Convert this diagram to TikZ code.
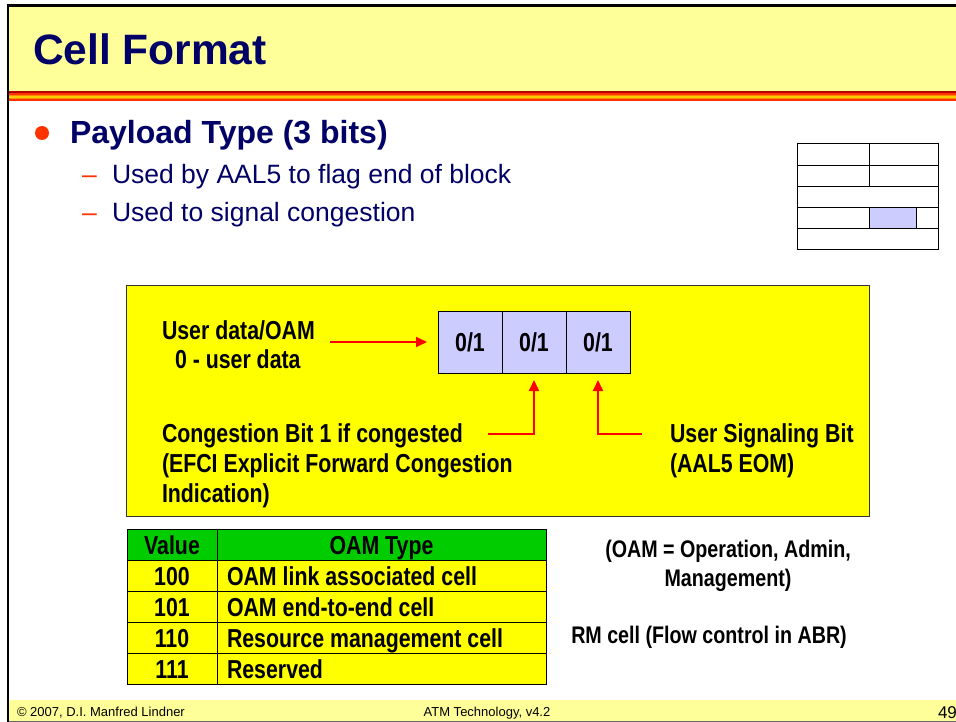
\documentclass[tikz,border=0pt]{standalone}
\usepackage{fontspec}
\setmainfont{Liberation Sans}
\newfontfamily\narb{Liberation Sans}[FakeStretch=0.82]
\usetikzlibrary{arrows.meta}
\definecolor{navy}{HTML}{000066}
\definecolor{hdr}{HTML}{FFFF99}
\definecolor{bul}{HTML}{FF3300}
\definecolor{ybox}{HTML}{FFFF00}
\definecolor{lav}{HTML}{CCCCFF}
\definecolor{grn}{HTML}{00CC00}
\definecolor{darkred}{HTML}{B00000}
\definecolor{orng}{HTML}{FF8800}
\definecolor{gold}{HTML}{FFCC00}
\tikzset{
  txt/.style={inner sep=0pt, outer sep=0pt},
  nb/.style={txt, font=\narb\bfseries\fontsize{26}{30}\selectfont},
  nbs/.style={txt, font=\narb\bfseries\fontsize{24}{28}\selectfont},
  bitcell/.style={draw=black, line width=0.8pt, fill=lav, minimum width=64pt, minimum height=62pt, inner sep=0pt, outer sep=0pt, font=\narb\bfseries\fontsize{26}{30}\selectfont},
  cell/.style={draw=black, line width=1pt, inner sep=0pt, outer sep=0pt, minimum height=31pt, anchor=north west},
  redarrow/.style={draw=red, line width=2pt, -{Triangle[length=11pt,width=10pt]}},
  foot/.style={txt, font=\fontsize{13}{15}\selectfont, anchor=base}
}
\begin{document}
\begin{tikzpicture}[x=1pt,y=-1pt]
\useasboundingbox (0,0) rectangle (956,722);
\fill[white] (0,0) rectangle (956,722);
% header band
\fill[hdr] (8,6) rectangle (956,91.5);
\fill[darkred] (8,91.3) rectangle (956,93);
\fill[bul] (8,93) rectangle (956,94.6);
\fill[orng] (8,94.6) rectangle (956,96.1);
\fill[gold] (8,96.1) rectangle (956,97.6);
\fill[orng] (8,97.6) rectangle (956,99.1);
\fill[bul] (8,99.1) rectangle (956,100.7);
% footer band
\fill[hdr] (8,700) rectangle (956,721);
\draw[black!60, line width=1pt] (8,721.2) -- (956,721.2);
% slide borders
\draw[black, line width=2.4pt] (6.6,5.5) -- (956,5.5);
\draw[black, line width=2.4pt] (7.8,4.3) -- (7.8,722);

% title
\node[txt, anchor=base west, text=navy, font=\bfseries\fontsize{42.5}{48}\selectfont] (title) at (33,64.5) {Cell Format};

% bullets
\fill[bul] (42,133) circle (7);
\node[txt, anchor=base west, text=navy, font=\bfseries\fontsize{32}{36}\selectfont] (pt) at (70,144) {Payload Type (3 bits)};
\node[txt, anchor=base west, text=bul, font=\fontsize{26.5}{30}\selectfont] (d1) at (82,184) {–};
\node[txt, anchor=base west, text=navy, font=\fontsize{26.5}{30}\selectfont] (s1) at (112,184) {Used by AAL5 to flag end of block};
\node[txt, anchor=base west, text=bul, font=\fontsize{26.5}{30}\selectfont] (d2) at (82,222) {–};
\node[txt, anchor=base west, text=navy, font=\fontsize{26.5}{30}\selectfont] (s2) at (112,222) {Used to signal congestion};

% small header diagram
\draw[black, line width=1pt] (797,144) rectangle (938,250);
\foreach \yy in {166,187,208,229} \draw[black, line width=1pt] (797,\yy) -- (938,\yy);
\draw[black, line width=1pt] (869,144) -- (869,187);
\draw[black, line width=1pt, fill=lav] (869,208) rectangle (916,229);

% yellow box
\draw[black!80, line width=0.8pt, fill=ybox] (126,285) rectangle (869,516);
\node[bitcell] (b1) at (470,342) {0/1};
\node[bitcell] (b2) at (534,342) {0/1};
\node[bitcell] (b3) at (598,342) {0/1};

\node[nb, anchor=base west] (ud1) at (162,339) {User data/OAM};
\node[nb, anchor=base west] (ud2) at (175,368) {0 - user data};
\node[nb, anchor=base west] (cg1) at (162,442) {Congestion Bit 1 if congested};
\node[nb, anchor=base west] (cg2) at (162,472) {(EFCI Explicit Forward Congestion};
\node[nb, anchor=base west] (cg3) at (162,502) {Indication)};
\node[nb, anchor=base west] (us1) at (670,442) {User Signaling Bit};
\node[nb, anchor=base west] (us2) at (670,472) {(AAL5 EOM)};

\coordinate (a1) at (330,342);
\coordinate (a2) at (488,434);
\coordinate (a3) at (642,434);
\draw[redarrow, shorten >=11pt] (a1) -- (b1.west);
\draw[redarrow, shorten >=7pt] (a2) -| (b2.south);
\draw[redarrow, shorten >=7pt] (a3) -| (b3.south);

% table
\node[cell, fill=grn, minimum width=90pt] (h1) at (127,529) {};
\node[cell, fill=grn, minimum width=329pt] (h2) at (217,529) {};
\node[nb, anchor=base] (h1t) at (172,554) {Value};
\node[nb, anchor=base] (h2t) at (381.5,554) {OAM Type};
\foreach \i/\v/\t in {1/100/OAM link associated cell, 2/101/OAM end-to-end cell, 3/110/Resource management cell, 4/111/Reserved} {
  \pgfmathsetmacro{\rtop}{529+31*\i}
  \pgfmathsetmacro{\rbl}{\rtop+25}
  \node[cell, fill=ybox, minimum width=90pt] (r\i a) at (127,\rtop) {};
  \node[cell, fill=ybox, minimum width=329pt] (r\i b) at (217,\rtop) {};
  \node[nb, anchor=base] (r\i at) at (172,\rbl) {\v};
  \node[nb, anchor=base west] (r\i bt) at (227,\rbl) {\t};
}

% right notes
\node[nbs, anchor=base] (n1) at (728,557) {(OAM = Operation, Admin,};
\node[nbs, anchor=base] (n2) at (728,586) {Management)};
\node[nbs, anchor=base] (n3) at (709,643) {RM cell (Flow control in ABR)};

% footer texts
\node[foot, anchor=base west] (f1) at (17,716.5) {© 2007, D.I. Manfred Lindner};
\node[foot] (f2) at (487,716.5) {ATM Technology, v4.2};
\node[txt, anchor=base west, font=\fontsize{17}{19}\selectfont] (f3) at (938,718) {49};
\end{tikzpicture}
\end{document}
